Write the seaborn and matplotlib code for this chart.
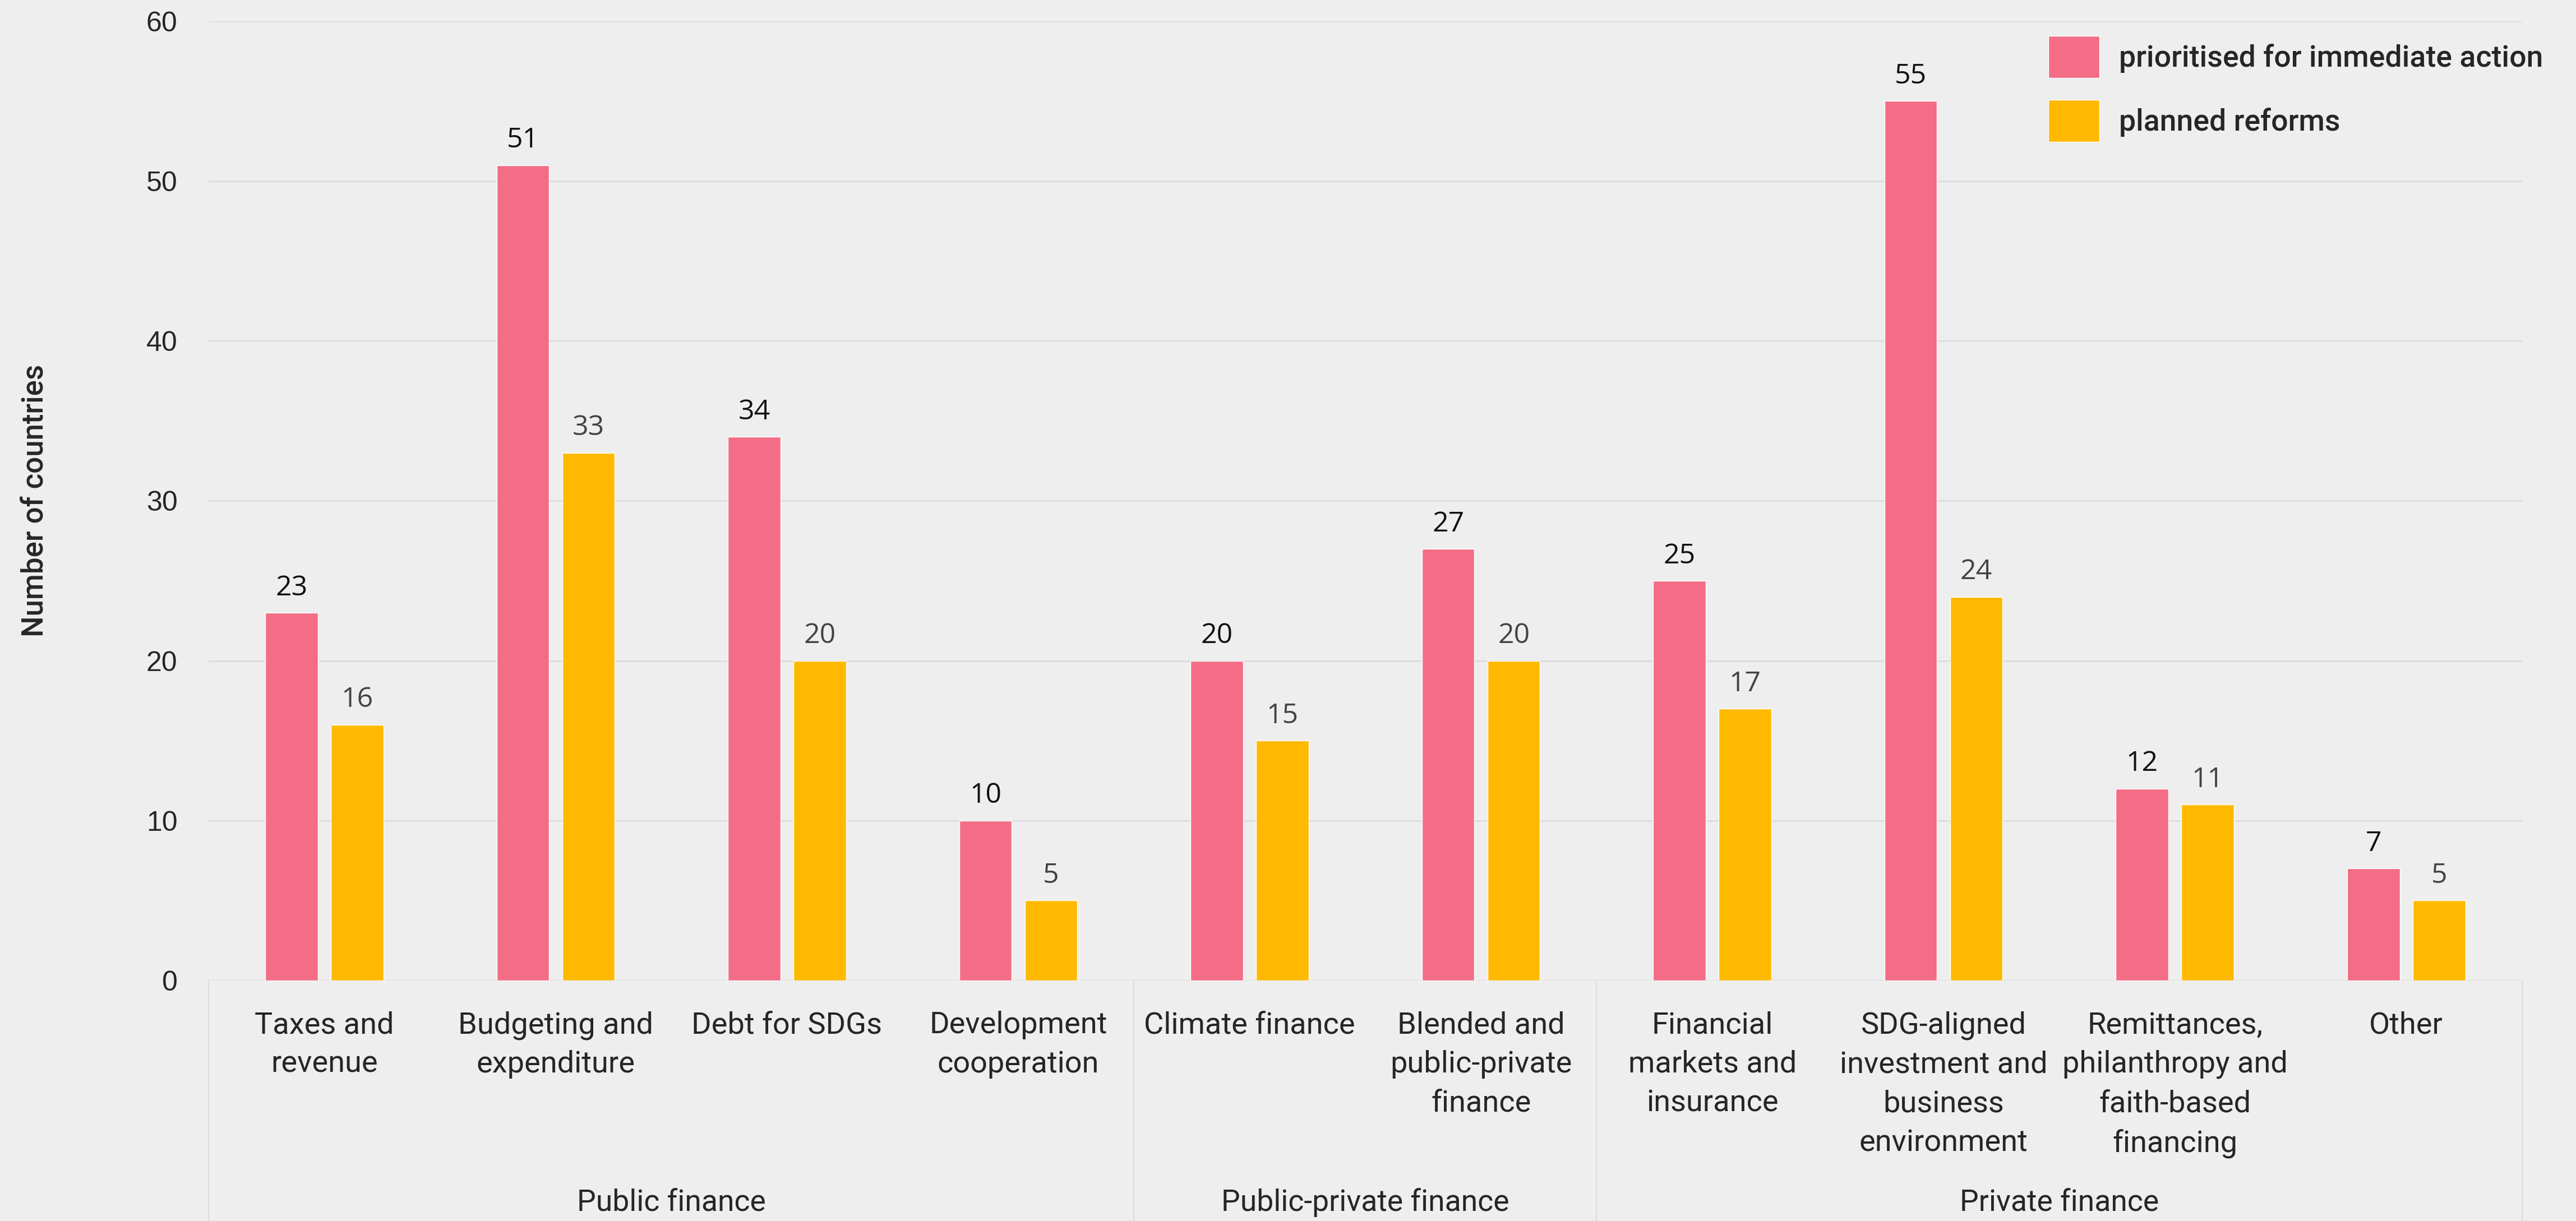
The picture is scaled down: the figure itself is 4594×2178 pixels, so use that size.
import numpy as np
import pandas as pd
import matplotlib
matplotlib.use("Agg")
import matplotlib.pyplot as plt
import matplotlib.transforms as mtransforms
import seaborn as sns

# data
categories = [
    "Taxes and\nrevenue",
    "Budgeting and\nexpenditure",
    "Debt for SDGs",
    "Development\ncooperation",
    "Climate finance",
    "Blended and\npublic-private\nfinance",
    "Financial\nmarkets and\ninsurance",
    "SDG-aligned\ninvestment and\nbusiness\nenvironment",
    "Remittances,\nphilanthropy and\nfaith-based\nfinancing",
    "Other",
]
prioritised = [23, 51, 34, 10, 20, 27, 25, 55, 12, 7]
planned = [16, 33, 20, 5, 15, 20, 17, 24, 11, 5]
series_names = ["prioritised for immediate action", "planned reforms"]
groups = ["Public finance", "Public-private finance", "Private finance"]
group_sizes = [4, 2, 4]

df = pd.DataFrame({
    "category": categories * 2,
    "count": prioritised + planned,
    "series": [series_names[0]] * len(categories) + [series_names[1]] * len(categories),
})

bg = "#EEEEEE"
colors = {series_names[0]: "#F36D86", series_names[1]: "#FFB900"}

sns.set_theme(style="white")
plt.rcParams["font.family"] = ["Roboto", "DejaVu Sans"]

fig = plt.figure(figsize=(45.94, 21.78), dpi=100, facecolor=bg)
ax = fig.add_axes([0.081, 0.197, 0.898, 0.7856])
ax.set_facecolor(bg)

sns.barplot(data=df, x="category", y="count", hue="series", palette=colors,
            width=0.567, gap=0.2, saturation=1, ax=ax)

# value labels
label_cols = ["#111111", "#444444"]
for cont, col in zip(ax.containers, label_cols):
    ax.bar_label(cont, padding=14, fontsize=36, color=col, family="Open Sans")

ax.set_ylim(0, 60)
ax.set_xlim(-0.5, len(categories) - 0.5)
ax.set_yticks(range(0, 61, 10))
ax.yaxis.grid(True, color="#DDDDDD", linewidth=2)
ax.set_axisbelow(True)
for s in ax.spines.values():
    s.set_visible(False)

ax.tick_params(axis="x", length=0, pad=39, labelsize=39)
ax.tick_params(axis="y", length=0, pad=40, labelsize=36)
for t in ax.get_xticklabels():
    t.set_linespacing(1.47)
for t in ax.get_yticklabels():
    t.set_family("Liberation Sans")
ax.set_xlabel("")
ax.set_ylabel("Number of countries", fontsize=38, fontweight="medium", labelpad=125)

# group separators and group labels
trans = mtransforms.blended_transform_factory(ax.transData, ax.transAxes)
edges = np.concatenate([[0], np.cumsum(group_sizes)]) - 0.5
for e in edges:
    ax.plot([e, e], [0, -0.26], transform=trans, color="#DDDDDD", linewidth=1.5, clip_on=False)
for g, a, b in zip(groups, edges[:-1], edges[1:]):
    ax.text((a + b) / 2, -0.2314, g, transform=trans, ha="center", va="center", fontsize=38.5)

leg = ax.legend(loc="upper left", bbox_to_anchor=(0.7954, 0.985), frameon=False, fontsize=38.5,
                handlelength=1.7, handleheight=1.8, handletextpad=0.65, labelspacing=0.72,
                borderpad=0, borderaxespad=0)
for t in leg.get_texts():
    t.set_fontweight("medium")

fig.savefig("out.png", dpi=100, facecolor=bg)
